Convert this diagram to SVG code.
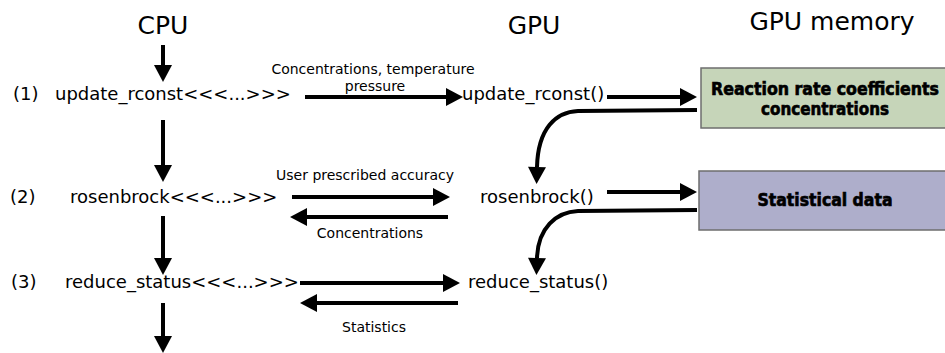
<svg xmlns="http://www.w3.org/2000/svg" width="945" height="353" viewBox="0 0 945 353">
<style>
  text { font-family: "DejaVu Sans", "Liberation Sans", sans-serif; fill: #000; }
  .hdr { font-size: 25px; }
  .fn { font-size: 18px; }
  .lbl { font-size: 14px; text-anchor: middle; }
  .box { font-family: "DejaVu Sans Condensed", "DejaVu Sans", sans-serif; font-weight: bold; font-size: 17px; text-anchor: middle; stroke: #000; stroke-width: 0.6; }
  .conn { fill: none; stroke: #000; stroke-width: 4; marker-end: url(#ah); }
</style>
<defs>
  <marker id="ah" markerUnits="userSpaceOnUse" markerWidth="18" markerHeight="18" refX="0" refY="9" orient="auto" overflow="visible">
    <path d="M0,0 L17,9 L0,18 Z" fill="#000"/>
  </marker>
</defs>
<rect width="945" height="353" fill="#fff"/>

<g id="headers">
  <text class="hdr" x="163" y="34" text-anchor="middle">CPU</text>
  <text class="hdr" x="534" y="34" text-anchor="middle">GPU</text>
  <text class="hdr" x="832" y="30" text-anchor="middle">GPU memory</text>
</g>

<g id="cpu1"><text class="fn" x="13" y="100">(1)</text><text class="fn" x="55" y="100">update_rconst&lt;&lt;&lt;...&gt;&gt;&gt;</text></g>
<g id="cpu2"><text class="fn" x="10" y="203">(2)</text><text class="fn" x="70" y="203">rosenbrock&lt;&lt;&lt;...&gt;&gt;&gt;</text></g>
<g id="cpu3"><text class="fn" x="11" y="288">(3)</text><text class="fn" x="65" y="288">reduce_status&lt;&lt;&lt;...&gt;&gt;&gt;</text></g>

<g id="gpu1"><text class="fn" x="462" y="100">update_rconst()</text></g>
<g id="gpu2"><text class="fn" x="480" y="203">rosenbrock()</text></g>
<g id="gpu3"><text class="fn" x="468" y="288">reduce_status()</text></g>

<g id="mem1">
  <rect x="701" y="68" width="250" height="60" fill="#c6d5b9" stroke="#6e6e6e" stroke-width="1.5"/>
  <text class="box" x="825" y="95" textLength="228" lengthAdjust="spacingAndGlyphs">Reaction rate coefficients</text>
  <text class="box" x="825" y="115" textLength="128" lengthAdjust="spacingAndGlyphs">concentrations</text>
</g>
<g id="mem2">
  <rect x="699" y="171" width="252" height="59" fill="#aeaecb" stroke="#6e6e6e" stroke-width="1.5"/>
  <text class="box" x="825" y="206" textLength="135" lengthAdjust="spacingAndGlyphs">Statistical data</text>
</g>

<g id="connectors">
  <path class="conn" d="M163,45 V65"/>
  <path class="conn" d="M163,120 V165"/>
  <path class="conn" d="M163,216 V258"/>
  <path class="conn" d="M163,303 V336"/>

  <path class="conn" d="M305,97 H446"/>
  <path class="conn" d="M607,97 H680"/>
  <path class="conn" d="M292,197 H433"/>
  <path class="conn" d="M448,217 H307"/>
  <path class="conn" d="M607,192 H680"/>
  <path class="conn" d="M300,283 H443"/>
  <path class="conn" d="M458,303 H317"/>

  <path class="conn" d="M697,110 L578,111 C556,112 538,128 537,167"/>
  <path class="conn" d="M697,210 L578,211 C556,212 538,228 537,258"/>

  <text class="lbl" x="373" y="74">Concentrations, temperature</text>
  <text class="lbl" x="375" y="91">pressure</text>
  <text class="lbl" x="365" y="180">User prescribed accuracy</text>
  <text class="lbl" x="370" y="238">Concentrations</text>
  <text class="lbl" x="374" y="332">Statistics</text>
</g>
</svg>
